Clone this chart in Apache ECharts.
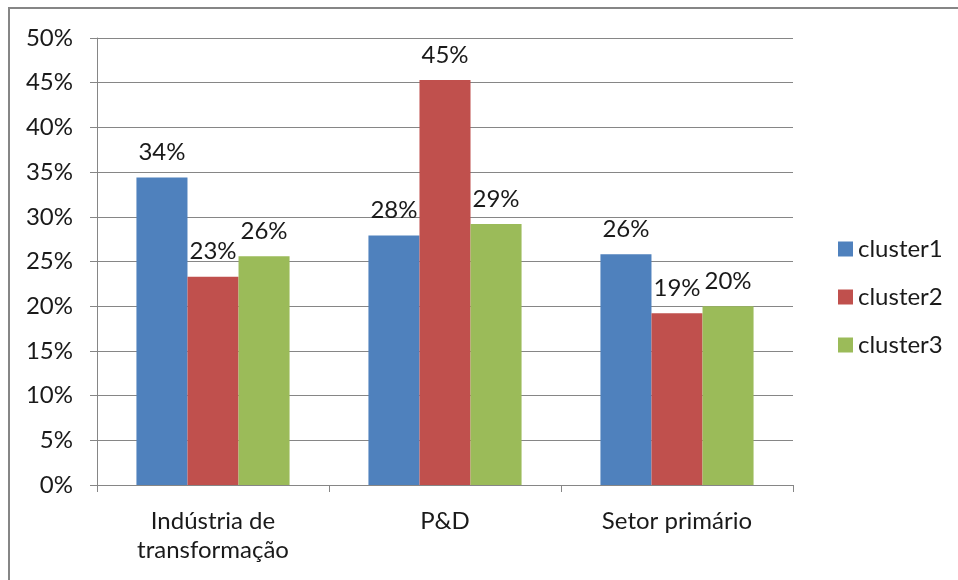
<!DOCTYPE html>
<html>
<head>
<meta charset="utf-8">
<script src="https://cdn.jsdelivr.net/npm/echarts@6/dist/echarts.min.js"></script>
<style>
  html, body { margin: 0; padding: 0; background: #fff; }
  #main { width: 958px; height: 580px; }
</style>
</head>
<body>
<div id="main"></div>
<script>
var categories = ['Indústria de\ntransformação', 'P&D', 'Setor primário'];
var seriesNames = ['cluster1', 'cluster2', 'cluster3'];
var cluster1 = [34.4, 27.9, 25.8];
var cluster2 = [23.3, 45.3, 19.2];
var cluster3 = [25.6, 29.2, 20.0];
var colors = ['#4F81BD', '#C0504D', '#9BBB59'];

var font = 'Lato, "Open Sans", sans-serif';
var textColor = '#1a1a1a';
var lineColor = '#868686';

var chart = echarts.init(document.getElementById('main'));

function makeSeries(name, data, color) {
  return {
    name: name,
    type: 'bar',
    data: data,
    barGap: '0%',
    barCategoryGap: '34%',
    itemStyle: { color: color },
    label: {
      show: true,
      position: 'top',
      distance: 13,
      fontFamily: font,
      fontSize: 24,
      color: textColor,
      formatter: function (p) { return Math.round(p.value) + '%'; }
    }
  };
}

var option = {
  animation: false,
  backgroundColor: '#fff',
  graphic: [{
    type: 'rect',
    shape: { x: 9, y: 8, width: 1200, height: 1200 },
    style: { fill: 'none', stroke: lineColor, lineWidth: 2 }
  }],
  grid: { left: 97, right: 165, top: 38, bottom: 95 },
  legend: {
    orient: 'vertical',
    left: 833,
    top: 232,
    itemWidth: 15,
    itemHeight: 15,
    itemGap: 24,
    data: seriesNames,
    textStyle: { fontFamily: font, fontSize: 24, color: textColor },
    icon: 'rect'
  },
  xAxis: {
    type: 'category',
    data: categories,
    axisLine: { lineStyle: { color: lineColor } },
    axisTick: { show: true, length: 7, lineStyle: { color: lineColor } },
    axisLabel: {
      margin: 22,
      fontFamily: font,
      fontSize: 24,
      color: textColor,
      lineHeight: 29
    }
  },
  yAxis: {
    type: 'value',
    min: 0,
    max: 50,
    interval: 5,
    axisLine: { show: true, lineStyle: { color: lineColor } },
    axisTick: { show: true, length: 7, lineStyle: { color: lineColor } },
    splitLine: { lineStyle: { color: lineColor } },
    axisLabel: {
      margin: 24,
      fontFamily: font,
      fontSize: 24,
      color: textColor,
      formatter: '{value}%'
    }
  },
  series: [
    makeSeries(seriesNames[0], cluster1, colors[0]),
    makeSeries(seriesNames[1], cluster2, colors[1]),
    makeSeries(seriesNames[2], cluster3, colors[2])
  ]
};

chart.setOption(option);
</script>
</body>
</html>
